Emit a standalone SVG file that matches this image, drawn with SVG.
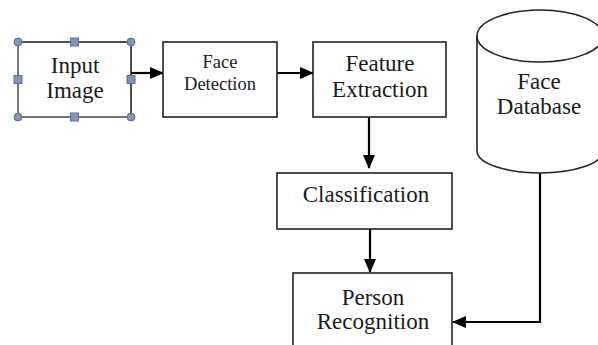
<svg xmlns="http://www.w3.org/2000/svg" width="598" height="345" viewBox="0 0 598 345">
<defs>
<style>
.box{fill:#fff;stroke:#222;stroke-width:1.6}
.t{font-family:"Liberation Serif","Times New Roman",serif;font-size:23px;fill:#1a1a1a;text-anchor:middle}
.ts{font-size:18.5px}
.conn{fill:none;stroke:#000;stroke-width:2.2}
.sel{fill:none;stroke:#808080;stroke-width:1.6}
.h{fill:#7f96b8;stroke:#5c7092;stroke-width:1}
</style>
<marker id="ah" viewBox="0 0 14 12" refX="13" refY="6" markerWidth="14" markerHeight="12" markerUnits="userSpaceOnUse" orient="auto">
<path d="M0,0 L14,6 L0,12 Z" fill="#000"/>
</marker>
</defs>
<rect width="598" height="345" fill="#fff"/>
<g id="connectors">
<line class="conn" x1="131" y1="73" x2="163" y2="73" marker-end="url(#ah)"/>
<line class="conn" x1="277" y1="73" x2="313" y2="73" marker-end="url(#ah)"/>
<line class="conn" x1="369" y1="117" x2="369" y2="168" marker-end="url(#ah)"/>
<line class="conn" x1="370" y1="229" x2="370" y2="272" marker-end="url(#ah)"/>
<polyline class="conn" points="540,173 540,322 453,322" marker-end="url(#ah)"/>
</g>
<g id="input-image">
<rect class="box" x="18" y="42" width="113" height="75"/>
<polyline class="sel" points="18,42 18,117 131,117"/>
<text class="t" x="75" y="73">Input</text>
<text class="t" x="75" y="98">Image</text>
<circle class="h" cx="18" cy="42" r="4"/>
<circle class="h" cx="131" cy="42" r="4"/>
<circle class="h" cx="18" cy="117" r="4"/>
<circle class="h" cx="131" cy="117" r="4"/>
<rect class="h" x="70.5" y="38" width="8" height="8"/>
<rect class="h" x="70.5" y="113" width="8" height="8"/>
<rect class="h" x="14" y="75.5" width="8" height="8"/>
<rect class="h" x="127" y="75.5" width="8" height="8"/>
</g>
<g id="face-detection">
<rect class="box" x="163" y="42" width="114" height="75"/>
<text class="t ts" x="220" y="68">Face</text>
<text class="t ts" x="220" y="90">Detection</text>
</g>
<g id="feature-extraction">
<rect class="box" x="313" y="42" width="133" height="75"/>
<text class="t" x="380" y="71">Feature</text>
<text class="t" x="380" y="97">Extraction</text>
</g>
<g id="classification">
<rect class="box" x="277" y="173" width="175" height="56"/>
<text class="t" x="366" y="202">Classification</text>
</g>
<g id="person-recognition">
<rect class="box" x="293" y="273" width="159" height="80"/>
<text class="t" x="373" y="305">Person</text>
<text class="t" x="373" y="329">Recognition</text>
</g>
<g id="face-database">
<path class="box" d="M477,36 L477,151 A63,22 0 0 0 603,151 L603,36 A63,26 0 0 0 477,36 Z"/>
<path class="box" style="fill:none" d="M477,36 A63,26 0 0 0 603,36"/>
<text class="t" x="539" y="89">Face</text>
<text class="t" x="539" y="114">Database</text>
</g>
</svg>
